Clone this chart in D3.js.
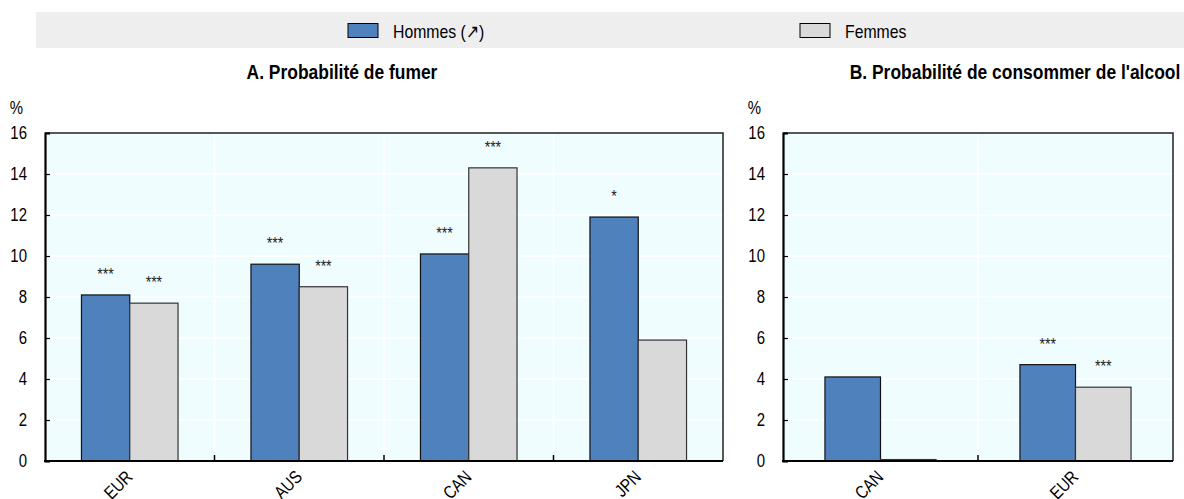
<!DOCTYPE html>
<html>
<head>
<meta charset="utf-8">
<script src="https://cdn.jsdelivr.net/npm/d3@7"></script>
<style>
  html, body { margin: 0; padding: 0; background: #ffffff; }
  svg { display: block; font-family: "Liberation Sans", Arial, sans-serif; }
</style>
</head>
<body>
<svg id="chart" width="1184" height="499"></svg>
<script>
// Series names
const seriesNames = ["Hommes (\u2197)", "Femmes"];
const seriesKeys = ["hommes", "femmes"];
const seriesColors = ["#4f81bd", "#d9d9d9"];

// Panel A: probability of smoking (%)
const smokeCategories = ["EUR", "AUS", "CAN", "JPN"];
const smokeHommes = [8.1, 9.6, 10.1, 11.9];
const smokeFemmes = [7.7, 8.5, 14.3, 5.9];
const smokeHommesSig = ["***", "***", "***", "*"];
const smokeFemmesSig = ["***", "***", "***", ""];

// Panel B: probability of drinking alcohol (%)
const alcoholCategories = ["CAN", "EUR"];
const alcoholHommes = [4.1, 4.7];
const alcoholFemmes = [0.07, 3.6];
const alcoholHommesSig = ["", "***"];
const alcoholFemmesSig = ["", "***"];

// Shared y axis
const yTicks = [0, 2, 4, 6, 8, 10, 12, 14, 16];
const yMax = 16;

// Horizontal squeeze applied to every label (narrow typeface look)
const NARROW = 0.83;

const svg = d3.select("#chart");

// Legend strip
svg.append("rect")
  .attr("x", 36).attr("y", 12).attr("width", 1148).attr("height", 36)
  .attr("fill", "#eeeeee");

const legendX = [348, 800];
seriesNames.forEach((name, i) => {
  const g = svg.append("g").attr("transform", `translate(${legendX[i]},23.5)`);
  g.append("rect").attr("width", 30).attr("height", 14)
    .attr("fill", seriesColors[i]).attr("stroke", "#000").attr("stroke-width", 1);
  g.append("text").attr("x", 45).attr("y", 14.5)
    .attr("font-size", 19).attr("fill", "#000").text(name);
});

function drawPanel(opts) {
  const { left, right, top, bottom, categories, hommes, femmes, hSig, fSig, title, titleX } = opts;

  const rows = categories.map((c, i) => ({
    cat: c,
    values: [
      { key: "hommes", value: hommes[i], sig: hSig[i] },
      { key: "femmes", value: femmes[i], sig: fSig[i] }
    ]
  }));

  const x = d3.scaleBand().domain(categories).range([left, right]).paddingInner(0).paddingOuter(0);
  const xInner = d3.scaleBand().domain(seriesKeys).range([0, x.bandwidth()]).paddingInner(0).paddingOuter(0.755);
  const y = d3.scaleLinear().domain([0, yMax]).range([bottom, top]);
  const color = d3.scaleOrdinal().domain(seriesKeys).range(seriesColors);

  // Title
  svg.append("text").attr("x", titleX).attr("y", 79)
    .attr("text-anchor", "middle").attr("font-size", 21).attr("font-weight", "bold")
    .attr("fill", "#000").text(title);

  // Plot background
  svg.append("rect").attr("x", left).attr("y", top)
    .attr("width", right - left).attr("height", bottom - top).attr("fill", "#f0fdff");

  // Horizontal gridlines
  svg.append("g").selectAll("line").data(yTicks.filter(t => t > 0 && t < yMax)).join("line")
    .attr("x1", left).attr("x2", right)
    .attr("y1", d => y(d)).attr("y2", d => y(d))
    .attr("stroke", "#ffffff").attr("stroke-width", 1.5);

  // Vertical gridlines between categories
  const bounds = categories.slice(1).map(c => x(c));
  svg.append("g").selectAll("line").data(bounds).join("line")
    .attr("x1", d => d).attr("x2", d => d)
    .attr("y1", top).attr("y2", bottom)
    .attr("stroke", "#ffffff").attr("stroke-width", 1.5);

  // Bars
  const groups = svg.append("g").selectAll("g").data(rows).join("g")
    .attr("transform", d => `translate(${x(d.cat)},0)`);

  groups.selectAll("rect").data(d => d.values).join("rect")
    .attr("x", d => xInner(d.key))
    .attr("width", xInner.bandwidth())
    .attr("y", d => y(d.value))
    .attr("height", d => y(0) - y(d.value))
    .attr("fill", d => color(d.key))
    .attr("stroke", d => d.key === "hommes" ? "#111" : "#333")
    .attr("stroke-width", 1.2);

  // Significance stars
  groups.selectAll("text.sig").data(d => d.values.filter(v => v.sig)).join("text")
    .attr("class", "sig")
    .attr("x", d => xInner(d.key) + xInner.bandwidth() / 2)
    .attr("y", d => y(d.value) - 15)
    .attr("text-anchor", "middle")
    .attr("font-size", 17)
    .attr("fill", "#222")
    .text(d => d.sig);

  // Frame: thin top/right, heavier left/bottom
  svg.append("path")
    .attr("d", `M${left},${top}H${right}V${bottom}`)
    .attr("fill", "none").attr("stroke", "#222").attr("stroke-width", 1.5);

  // Y axis
  const yAxis = d3.axisLeft(y).tickValues(yTicks).tickSize(-5).tickPadding(18).tickFormat(d3.format("d"));
  const gy = svg.append("g").attr("transform", `translate(${left},0)`).call(yAxis)
    .attr("font-family", null).attr("font-size", null);
  gy.select(".domain").attr("stroke", "#000").attr("stroke-width", 2.2);
  gy.selectAll(".tick line").attr("stroke", "#000").attr("stroke-width", 1.2);
  gy.selectAll(".tick text").attr("font-size", 18).attr("fill", "#000");

  svg.append("text").attr("x", left - 22).attr("y", 114)
    .attr("text-anchor", "end").attr("font-size", 18).attr("fill", "#000").text("%");

  // X axis baseline with ticks at category boundaries
  svg.append("line").attr("x1", left - 1).attr("x2", right)
    .attr("y1", bottom).attr("y2", bottom)
    .attr("stroke", "#000").attr("stroke-width", 2.2);
  svg.append("g").selectAll("line").data(bounds).join("line")
    .attr("x1", d => d).attr("x2", d => d)
    .attr("y1", bottom).attr("y2", bottom - 6)
    .attr("stroke", "#000").attr("stroke-width", 1.5);

  // Category labels, rotated
  svg.append("g").selectAll("text").data(categories).join("text")
    .attr("transform", d => `translate(${x(d) + x.bandwidth() / 2 + 4},${bottom + 17}) rotate(-45)`)
    .attr("text-anchor", "end")
    .attr("font-size", 18)
    .attr("fill", "#000")
    .text(d => d);
}

drawPanel({
  left: 45, right: 723, top: 133, bottom: 461,
  categories: smokeCategories, hommes: smokeHommes, femmes: smokeFemmes,
  hSig: smokeHommesSig, fSig: smokeFemmesSig,
  title: "A. Probabilit\u00e9 de fumer", titleX: 342
});

drawPanel({
  left: 783, right: 1173, top: 133, bottom: 461,
  categories: alcoholCategories, hommes: alcoholHommes, femmes: alcoholFemmes,
  hSig: alcoholHommesSig, fSig: alcoholFemmesSig,
  title: "B. Probabilit\u00e9 de consommer de l'alcool", titleX: 1015
});

// Condense every label horizontally
svg.selectAll("text").each(function () {
  const w = this.getComputedTextLength();
  if (w > 0) {
    this.setAttribute("textLength", (w * NARROW).toFixed(2));
    this.setAttribute("lengthAdjust", "spacingAndGlyphs");
  }
});
</script>
</body>
</html>
